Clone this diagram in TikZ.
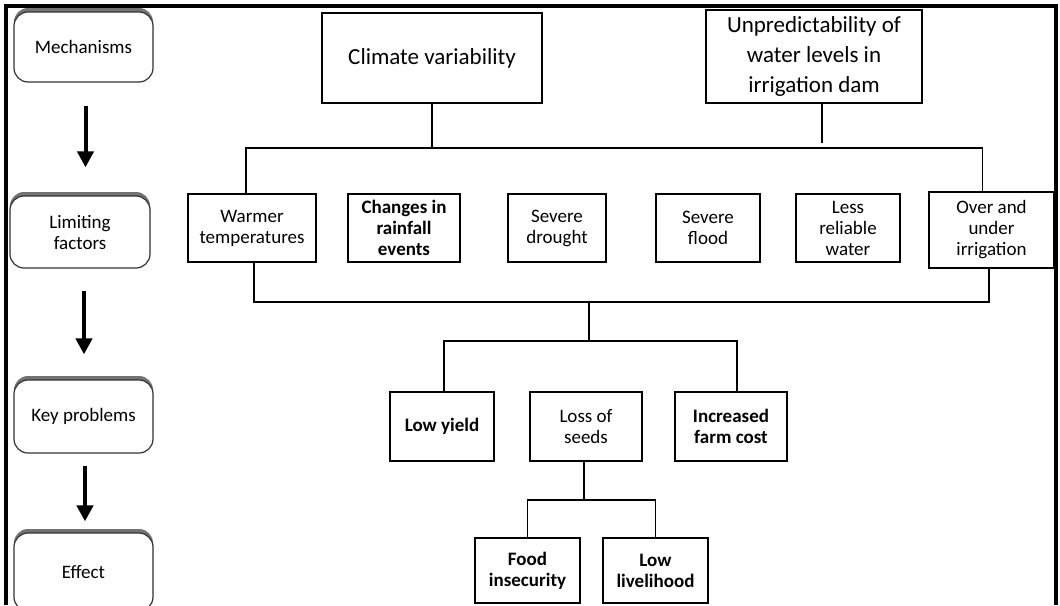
\documentclass[tikz,border=0pt]{standalone}
\usepackage{fontspec}
\setmainfont{Carlito}
\usetikzlibrary{arrows.meta,shadows,calc}
\tikzset{
  phase/.style={draw=black!80,line width=1.2pt,fill=white,rounded corners=14pt,
    minimum width=139pt,minimum height=#1,inner sep=0pt,align=center,
    font=\fontsize{19}{21}\selectfont,
    drop shadow={shadow xshift=0pt,shadow yshift=4pt,opacity=1,fill=black!55}},
  phase/.default=70pt,
  box/.style={draw,line width=1.6pt,fill=white,inner sep=0pt,align=center,
    font=\fontsize{19}{21}\selectfont},
  head/.style={box,font=\fontsize{23}{30}\selectfont},
  link/.style={line width=1.6pt},
  stage arrow/.style={-{Triangle[length=16pt,width=16pt]},line width=4pt},
}

\begin{document}
\begin{tikzpicture}[x=1pt,y=-1pt]
  \useasboundingbox (0,0) rectangle (1060,605);
  \draw[line width=3.5pt] (6,605) -- (6,6) -- (1056,6) -- (1056,605);

  % stages on the left
  \node[phase] (mech) at (83.5,47) {Mechanisms};
  \node[phase=72pt,minimum width=140pt] (lim) at (80,232) {Limiting\\factors};
  \node[phase=73pt] (key) at (83.5,416.5) {Key problems};
  \node[phase=78pt] (eff) at (83.5,572) {Effect};
  \coordinate (a1) at ([xshift=2pt]mech.south);
  \coordinate (a2) at ([xshift=4pt]lim.south);
  \coordinate (a3) at ([xshift=1.5pt]key.south);
  \draw[stage arrow,shorten <=23pt,shorten >=28pt] (a1) -- (a1 |- lim.north);
  \draw[stage arrow,shorten <=22pt,shorten >=25pt] (a2) -- (a2 |- key.north);
  \draw[stage arrow,shorten <=12pt,shorten >=11pt] (a3) -- (a3 |- eff.north);

  % mechanisms
  \node[head,minimum width=220pt,minimum height=90pt] (clim) at (432,58) {Climate variability};
  \node[head,minimum width=216pt,minimum height=93pt] (unp) at (814,56.5) {Unpredictability of\\water levels in\\irrigation dam};

  % limiting factors
  \node[box,minimum width=128pt,minimum height=68pt] (warm) at (252,228) {Warmer\\temperatures};
  \node[box,minimum width=112pt,minimum height=68pt,font=\fontsize{19}{21}\selectfont\bfseries] (rain) at (404,228) {Changes in\\rainfall\\events};
  \node[box,minimum width=98pt,minimum height=68pt] (drought) at (557,228) {Severe\\drought};
  \node[box,minimum width=104pt,minimum height=68pt] (flood) at (708,228) {Severe\\flood};
  \node[box,minimum width=104pt,minimum height=68pt] (water) at (848,228) {Less\\reliable\\water};
  \node[box,minimum width=125pt,minimum height=76pt] (irrig) at (991.5,230) {Over and\\under\\irrigation};

  % key problems
  \node[box,minimum width=104pt,minimum height=69pt,font=\fontsize{19}{21}\selectfont\bfseries] (lowy) at (442,426.5) {Low yield};
  \node[box,minimum width=112pt,minimum height=69pt] (seeds) at (586,426.5) {Loss of\\seeds};
  \node[box,minimum width=112pt,minimum height=69pt,font=\fontsize{19}{21}\selectfont\bfseries] (cost) at (731,426.5) {Increased\\farm cost};

  % effects
  \node[box,minimum width=105pt,minimum height=65pt,font=\fontsize{19}{21}\selectfont\bfseries] (food) at (527.5,570.5) {Food\\insecurity};
  \node[box,minimum width=105pt,minimum height=65pt,font=\fontsize{19}{21}\selectfont\bfseries] (live) at (655.5,570.5) {Low\\livelihood};

  % connectors
  \coordinate (topbus) at (0,148);
  \coordinate (lowbus) at (0,302);
  \coordinate (hub) at (589,302);
  \coordinate (hub2) at (589,341);
  \coordinate (warmin) at ([xshift=-6pt]warm.north);
  \coordinate (irrin) at ([xshift=-9pt]irrig.north);
  \coordinate (warmout) at ([xshift=2pt]warm.south);
  \coordinate (irrout) at ([xshift=-2.5pt]irrig.south);
  \coordinate (lowyin) at ([xshift=2pt]lowy.north);
  \coordinate (costin) at ([xshift=6pt]cost.north);
  \coordinate (unpout) at ([xshift=8pt]unp.south);
  \coordinate (seedout) at ([xshift=-2pt]seeds.south);
  \coordinate (seedbus) at (0,500);

  \draw[link] (clim.south) -- (clim.south |- topbus);
  \draw[link,shorten >=5pt] (unpout) -- (unpout |- topbus);
  \draw[link] (warmin) -- (warmin |- topbus) -- (irrin |- topbus) -- (irrin);
  \draw[link] (warmout) -- (warmout |- lowbus) -- (irrout |- lowbus) -- (irrout);
  \draw[link] (hub) -- (hub2);
  \draw[link] (lowyin) -- (lowyin |- hub2) -- (costin |- hub2) -- (costin);
  \draw[link] (seedout) -- (seedout |- seedbus);
  \draw[link] (food.north) -- (food.north |- seedbus) -- (live.north |- seedbus) -- (live.north);
\end{tikzpicture}
\end{document}
